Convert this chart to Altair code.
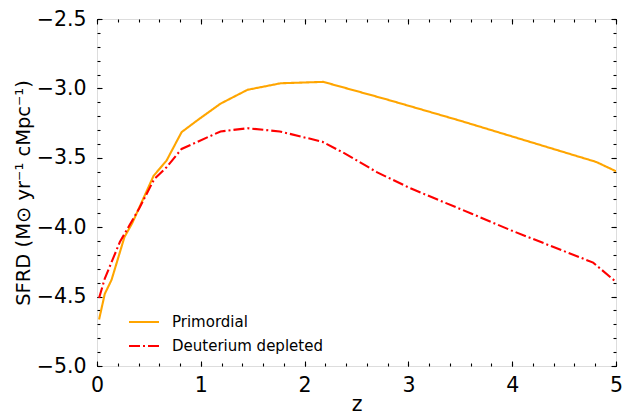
import altair as alt
import pandas as pd

# --- data ---
z_prim = [0.02, 0.075, 0.14, 0.265, 0.34, 0.545, 0.67, 0.815, 0.97, 1.19, 1.45, 1.77, 2.18, 2.78, 3.5, 4.81, 5.0]
v_prim = [-4.665, -4.48, -4.38, -4.07, -3.97, -3.63, -3.52, -3.315, -3.228, -3.11, -3.01, -2.963, -2.953, -3.077, -3.233, -3.53, -3.597]

z_deut = [0.02, 0.075, 0.22, 0.31, 0.41, 0.55, 0.67, 0.815, 0.97, 1.19, 1.45, 1.76, 2.17, 2.39, 2.70, 3.02, 3.61, 3.99, 4.78, 5.0]
v_deut = [-4.51, -4.37, -4.107, -3.99, -3.86, -3.655, -3.568, -3.436, -3.384, -3.31, -3.287, -3.31, -3.384, -3.47, -3.605, -3.72, -3.903, -4.023, -4.255, -4.394]

series_names = ["Primordial", "Deuterium depleted"]
series_colors = ["orange", "red"]
series_dash = [[1, 0], [11, 3, 2, 3]]

x_major = [0, 1, 2, 3, 4, 5]
x_minor = [i / 5 for i in range(26)]
y_major = [-5.0, -4.5, -4.0, -3.5, -3.0, -2.5]
y_minor = [-5.0 + i / 10 for i in range(26)]

df = pd.concat([
    pd.DataFrame({"z": z_prim, "v": v_prim, "series": series_names[0], "order": range(len(z_prim))}),
    pd.DataFrame({"z": z_deut, "v": v_deut, "series": series_names[1], "order": range(len(z_deut))}),
])

FONT = "DejaVu Sans"
FS = 20.5
xscale = alt.Scale(domain=[0, 5], nice=False, zero=False)
yscale = alt.Scale(domain=[-5, -2.5], nice=False, zero=False)

legend_cfg = dict(title=None, orient="none", legendX=31, legendY=287,
                  symbolType="stroke", symbolSize=900, symbolStrokeWidth=2,
                  labelFontSize=15, labelFont=FONT, labelColor="black",
                  labelOffset=12, rowPadding=-17.8, padding=0)

base = alt.Chart(df)

main = base.mark_line(strokeWidth=2.1, clip=True).encode(
    x=alt.X("z:Q", scale=xscale, axis=alt.Axis(
        values=x_major, format="d", ticks=False, tickSize=0, domain=False, grid=False,
        labelFlush=False,
        labelPadding=9, labelFontSize=FS, labelFont=FONT, labelColor="black",
        title="z", titleFontSize=FS, titleFont=FONT, titleFontWeight="normal",
        titleColor="black", titlePadding=-1, orient="bottom")),
    y=alt.Y("v:Q", scale=yscale, axis=alt.Axis(
        values=y_major, format=".1f", ticks=False, tickSize=0, domain=False, grid=False,
        labelPadding=11, labelFontSize=FS, labelFont=FONT, labelColor="black",
        title="SFRD (M⊙ yr⁻¹ cMpc⁻¹)", titleFontSize=19.5, titleFont=FONT,
        titleFontWeight="normal", titleColor="black", titlePadding=3, orient="left")),
    color=alt.Color("series:N", scale=alt.Scale(domain=series_names, range=series_colors),
                    legend=alt.Legend(**legend_cfg)),
    strokeDash=alt.StrokeDash("series:N", scale=alt.Scale(domain=series_names, range=series_dash),
                              legend=alt.Legend(**legend_cfg)),
    order="order:Q",
)


def tick_layer(xorient, yorient, xvals, yvals, size):
    return base.mark_line(opacity=0).encode(
        x=alt.X("z:Q", scale=xscale, axis=alt.Axis(
            values=xvals, labels=False, domain=False, grid=False, ticks=True,
            tickSize=size, tickWidth=1.1, tickColor="black", offset=-size,
            title=None, orient=xorient)),
        y=alt.Y("v:Q", scale=yscale, axis=alt.Axis(
            values=yvals, labels=False, domain=False, grid=False, ticks=True,
            tickSize=size, tickWidth=1.1, tickColor="black", offset=-size,
            title=None, orient=yorient)),
        detail="series:N",
    )


layers = [
    main,
    tick_layer("bottom", "left", x_major, y_major, 5),
    tick_layer("top", "right", x_major, y_major, 5),
    tick_layer("bottom", "left", x_minor, y_minor, 3),
    tick_layer("top", "right", x_minor, y_minor, 3),
]

chart = alt.layer(*layers).resolve_axis(
    x="independent", y="independent"
).properties(
    width=519, height=347,
    padding={"left": 89, "top": 11, "right": 7, "bottom": 50},
    autosize=alt.AutoSizeParams(type="none"),
).configure_view(
    stroke="black", strokeWidth=1.2
).configure(font=FONT)

chart.save("out.html", embed_options={"renderer": "svg", "actions": False})
